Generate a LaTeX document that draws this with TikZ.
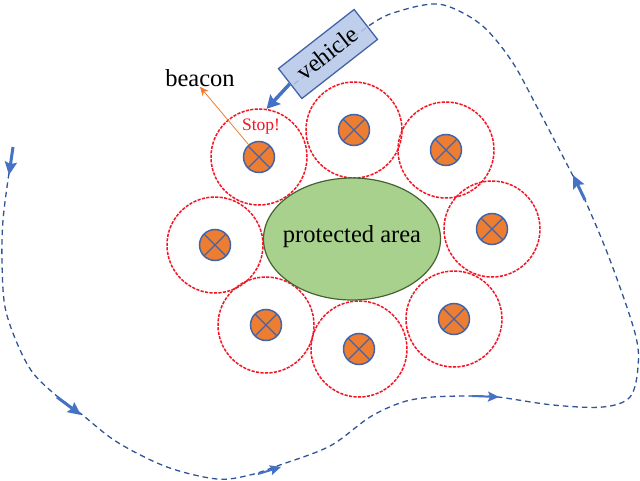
\documentclass[tikz,border=0pt]{standalone}
\usepackage{fontspec}
\setmainfont{Liberation Serif}
\usetikzlibrary{arrows.meta,shapes.geometric}
\definecolor{ringred}{RGB}{245,20,35}
\definecolor{crossblue}{RGB}{68,100,170}
\definecolor{beaconfill}{RGB}{237,125,49}
\definecolor{areafill}{RGB}{169,209,142}
\definecolor{areadraw}{RGB}{70,100,50}
\definecolor{vehiclefill}{RGB}{180,199,231}
\definecolor{pathblue}{RGB}{47,85,151}
\definecolor{arrowblue}{RGB}{68,114,196}
\tikzset{
  ring/.style={circle,draw=ringred,line width=1.5pt,dash pattern=on 3.2pt off 1.3pt,minimum size=96pt,inner sep=0pt},
  beacon/.style={circle,draw=crossblue,fill=beaconfill,line width=1.5pt,minimum size=31pt,inner sep=0pt,
    path picture={
      \draw[crossblue,line width=1.3pt] (path picture bounding box.north west) -- (path picture bounding box.south east);
      \draw[crossblue,line width=1.3pt] (path picture bounding box.north east) -- (path picture bounding box.south west);
    }},
  move/.style={draw=arrowblue,line width=3pt,-{Stealth[length=13pt,width=12pt,inset=2pt]}},
  track/.style={draw=pathblue,line width=1.3pt,dash pattern=on 5.5pt off 4pt},
  big/.style={inner sep=0pt,font=\fontsize{24.5}{26}\selectfont}
}

\begin{document}
\begin{tikzpicture}[x=1pt,y=-1pt]
  \useasboundingbox (0,0) rectangle (640,481);
  % trajectory under everything
  \draw[track] plot[smooth,tension=0.55] coordinates {
    (9,173) (3,220) (2,263) (5,307) (17,343) (33,373) (58,397) (80,413) (117,442) (167,467)
    (217,479) (250,475) (280,465) (330,446) (370,417) (403,402) (433,397) (472,396) (498,397)
    (553,405) (603,407) (630,397) (638,367) (635,333) (610,260) (585,200) (572,174) (537,107)
    (513,63) (487,30) (463,13) (437,4) (403,10) (370,25) (293,85)};
  \node[ring] (r1) at (259,157) {};
  \node[ring] (r2) at (354,130) {};
  \node[ring] (r3) at (446,150) {};
  \node[ring] (r4) at (492,229) {};
  \node[ring] (r5) at (454,319) {};
  \node[ring] (r6) at (359,349) {};
  \node[ring] (r7) at (266,325) {};
  \node[ring] (r8) at (215,245) {};
  \node[beacon] (b1) at (r1) {};
  \node[beacon] (b2) at (r2) {};
  \node[beacon] (b3) at (r3) {};
  \node[beacon] (b4) at (r4) {};
  \node[beacon] (b5) at (r5) {};
  \node[beacon] (b6) at (r6) {};
  \node[beacon] (b7) at (r7) {};
  \node[beacon] (b8) at (r8) {};
  \node[ellipse,draw=areadraw,fill=areafill,line width=1.2pt,minimum width=177pt,minimum height=122pt,inner sep=0pt] (area) at (352,239) {};
  \node[big] (arealbl) at (352,237) {protected area};
  \node[draw=crossblue,fill=vehiclefill,fill opacity=0.85,text opacity=1,line width=1.3pt,minimum width=96pt,minimum height=38pt,rotate=38,big] (vehicle) at (328,54) {\raisebox{3pt}{vehicle}};
  \node[big] (lbl) at (200,78) {beacon};
  \node[inner sep=0pt,text=ringred,font=\fontsize{17.5}{19}\selectfont] (stop) at (261,127) {Stop!};
  \coordinate (m1a) at (13,147);
  \coordinate (m1b) at (9,175);
  \coordinate (m2a) at (57,397);
  \coordinate (m2b) at (81,415);
  \coordinate (m3a) at (258,474);
  \coordinate (m3b) at (281,467);
  \coordinate (m4a) at (472,396);
  \coordinate (m4b) at (499,397);
  \coordinate (m5a) at (585,200);
  \coordinate (m5b) at (573,175);
  \path
  (vehicle.west) edge [move,line width=3.5pt,-{Stealth[length=13pt,width=14pt,inset=2pt]}] (r1.81)
  (m1a) edge [move] (m1b)
  (m2a) edge [move] (m2b)
  (m3a) edge [move,line width=2pt,-{Stealth[length=11pt,width=10pt,inset=2pt]}] (m3b)
  (m4a) edge [move,line width=2pt,-{Stealth[length=11pt,width=10pt,inset=2pt]}] (m4b)
  (m5a) edge [move] (m5b)
  ;
  \draw[beaconfill,line width=0.8pt,-{Stealth[length=9pt,width=8pt]}] (b1) -- (lbl.south);
\end{tikzpicture}
\end{document}
